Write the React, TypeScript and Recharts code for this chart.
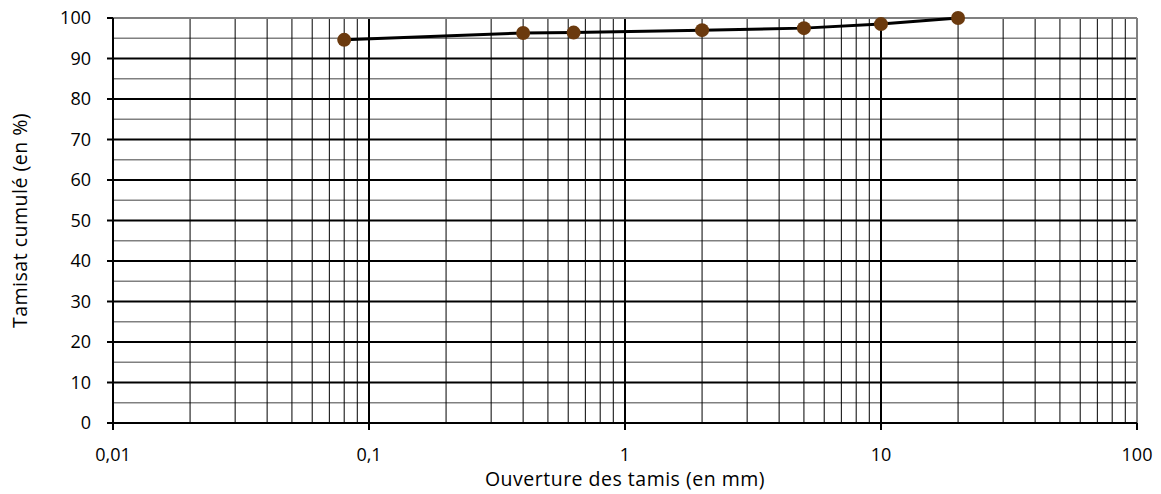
import { ComposedChart, Line, XAxis, YAxis, ReferenceLine, Label } from 'recharts'

// sieve openings (mm) and cumulative passing (%)
const openings = [0.08, 0.4, 0.63, 2, 5, 10, 20]
const passing = [94.6, 96.3, 96.4, 97, 97.5, 98.5, 100]

const xTicks = [0.01, 0.1, 1, 10, 100]
const yTicks = [0, 10, 20, 30, 40, 50, 60, 70, 80, 90, 100]
const yMinor = [5, 15, 25, 35, 45, 55, 65, 75, 85, 95]
const decades = [0.01, 0.1, 1, 10]
const multipliers = [2, 3, 4, 5, 6, 7, 8, 9]

const data = openings.map((x, i) => ({ x, y: passing[i] }))
const xMinor = decades.flatMap(d => multipliers.map(m => +(d * m).toPrecision(3)))

const font = "'Open Sans', 'Liberation Sans', sans-serif"

export default function App() {
  return (
    <div style={{ position: 'absolute', left: 0, top: 0, background: '#fff' }}>
      <ComposedChart
        width={1161}
        height={494}
        data={data}
        margin={{ top: 18, right: 24, left: 0, bottom: 1 }}
        style={{ fontFamily: font }}
      >
        <XAxis
          dataKey="x"
          type="number"
          scale="log"
          domain={[0.01, 100]}
          ticks={xTicks}
          allowDataOverflow
          height={70}
          tickSize={7}
          tickMargin={18}
          tickFormatter={(v: number) => String(v).replace('.', ',')}
          tick={{ fill: '#000', fontSize: 18 }}
          axisLine={{ stroke: '#000', strokeWidth: 2 }}
          tickLine={{ stroke: '#000', strokeWidth: 2 }}
        >
          <Label value="Ouverture des tamis (en mm)" position="insideBottom" offset={7} fill="#000" fontSize={19.5} letterSpacing={0.5} />
        </XAxis>
        <YAxis
          type="number"
          domain={[0, 100]}
          ticks={yTicks}
          width={113}
          tickSize={6}
          tickMargin={16}
          tick={{ fill: '#000', fontSize: 18 }}
          axisLine={{ stroke: '#000', strokeWidth: 2 }}
          tickLine={{ stroke: '#000', strokeWidth: 2 }}
        >
          <Label value="Tamisat cumulé (en %)" angle={-90} position="insideLeft" offset={20} style={{ textAnchor: 'middle' }} fill="#000" fontSize={19.5} letterSpacing={0.5} />
        </YAxis>

        {yMinor.map(v => (
          <ReferenceLine key={'ym' + v} y={v} stroke="#808080" strokeWidth={1.5} />
        ))}
        {xMinor.map(v => (
          <ReferenceLine key={'xm' + v} x={v} stroke="#000" strokeWidth={1} />
        ))}
        {yTicks.slice(1, -1).map(v => (
          <ReferenceLine key={'y' + v} y={v} stroke="#000" strokeWidth={2} />
        ))}
        {xTicks.slice(1, -1).map(v => (
          <ReferenceLine key={'x' + v} x={v} stroke="#000" strokeWidth={2} />
        ))}
        <ReferenceLine y={100} stroke="#808080" strokeWidth={2} />
        <ReferenceLine x={100} stroke="#808080" strokeWidth={2} />

        <Line
          dataKey="y"
          type="linear"
          stroke="#000"
          strokeWidth={3}
          dot={{ r: 7, fill: '#6B3A0E', stroke: 'none' }}
          activeDot={false}
          isAnimationActive={false}
        />
      </ComposedChart>
    </div>
  )
}
